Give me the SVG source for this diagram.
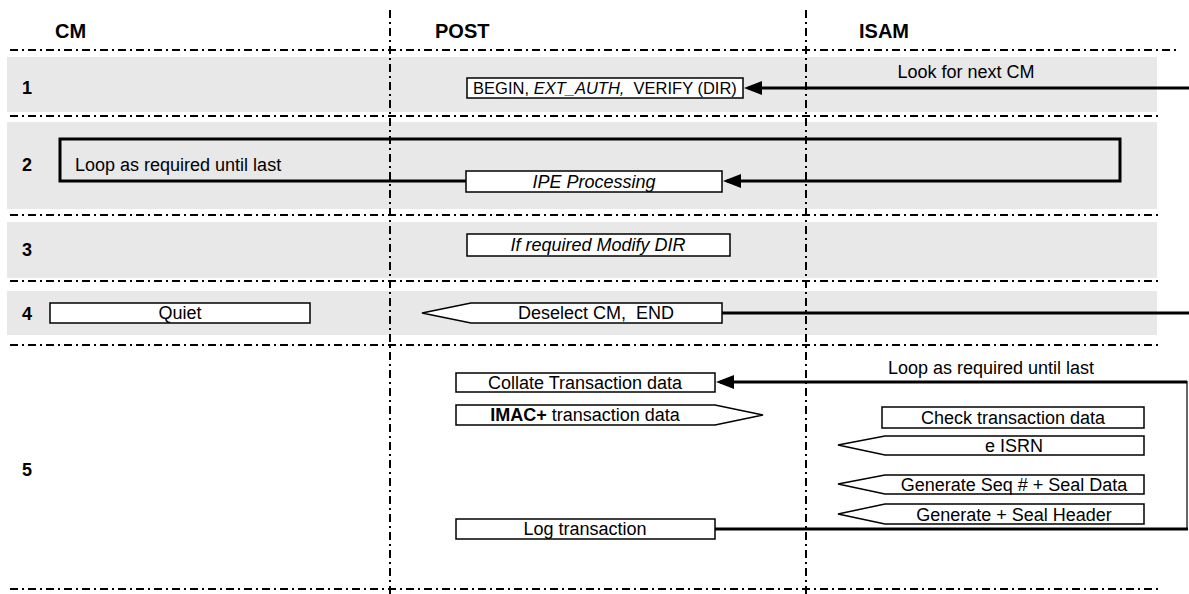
<svg xmlns="http://www.w3.org/2000/svg" width="1189" height="594" viewBox="0 0 1189 594">
<defs>
<style>
.band{fill:#e8e8e8}
.sep{stroke:#000;stroke-width:2;stroke-dasharray:8 4 2 4;fill:none}
.hdr{font-family:"Liberation Sans",Arial,sans-serif;font-weight:bold;font-size:20px;fill:#000}
.num{font-family:"Liberation Sans",Arial,sans-serif;font-weight:bold;font-size:18px;fill:#000}
.t{font-family:"Liberation Sans",Arial,sans-serif;font-size:18px;fill:#000}
.pre{white-space:pre}
.it{font-style:italic}
.box{fill:#fff;stroke:#000;stroke-width:1.5}
.conn{stroke:#000;stroke-width:3;fill:none}
.thin{stroke:#000;stroke-width:1.2;fill:none}
</style>
<marker id="ah" markerUnits="userSpaceOnUse" viewBox="0 0 18 14" refX="14" refY="7" markerWidth="18" markerHeight="14" orient="auto">
<path d="M0,0 L18,7 L0,14 z" fill="#000"/>
</marker>
</defs>
<rect width="1189" height="594" fill="#fff"/>
<g id="bands">
<rect class="band" x="7" y="57" width="1150" height="55"/>
<rect class="band" x="7" y="122" width="1150" height="87"/>
<rect class="band" x="7" y="222" width="1150" height="56"/>
<rect class="band" x="7" y="291" width="1150" height="44"/>
</g>
<g id="grid">
<line class="sep" x1="10" y1="50" x2="1180" y2="50"/>
<line class="sep" x1="10" y1="116" x2="1158" y2="116"/>
<line class="sep" x1="10" y1="215" x2="1158" y2="215"/>
<line class="sep" x1="10" y1="281" x2="1158" y2="281"/>
<line class="sep" x1="10" y1="345" x2="1158" y2="345"/>
<line class="sep" x1="10" y1="589" x2="1158" y2="589"/>
<line class="sep" x1="390" y1="10" x2="390" y2="594"/>
<line class="sep" x1="806" y1="10" x2="806" y2="594"/>
</g>
<g id="headers">
<text class="hdr" x="55" y="38">CM</text>
<text class="hdr" x="435" y="38">POST</text>
<text class="hdr" x="859" y="38">ISAM</text>
<text class="num" x="22" y="94">1</text>
<text class="num" x="22" y="171">2</text>
<text class="num" x="22" y="256">3</text>
<text class="num" x="22" y="320">4</text>
<text class="num" x="22" y="476">5</text>
</g>
<g id="connectors">
<path class="conn" d="M1189,88 H748" marker-end="url(#ah)"/>
<path class="conn" d="M466,181 H60 V139 H1120 V181 H727" marker-end="url(#ah)"/>
<path class="conn" d="M722,313 H1189"/>
<path class="conn" d="M1187,382 H720" marker-end="url(#ah)"/>
<path class="thin" d="M1187,381 V530"/>
<path class="conn" d="M715,529 H1188"/>
</g>
<g id="lbl-look">
<text class="t" x="966" y="78" text-anchor="middle">Look for next CM</text>
</g>
<g id="lbl-loop1">
<text class="t" x="75" y="171">Loop as required until last</text>
</g>
<g id="lbl-loop2">
<text class="t" x="991" y="374" text-anchor="middle">Loop as required until last</text>
</g>
<g id="n-begin">
<rect class="box" x="467" y="78" width="276" height="20"/>
<text class="t pre" x="605" y="94" text-anchor="middle" style="font-size:16.5px">BEGIN, <tspan class="it">EXT_AUTH,</tspan>  VERIFY (DIR)</text>
</g>
<g id="n-ipe">
<rect class="box" x="466" y="171" width="256" height="21"/>
<text class="t it" x="594" y="188" text-anchor="middle">IPE Processing</text>
</g>
<g id="n-modify">
<rect class="box" x="467" y="234" width="263" height="22"/>
<text class="t it" x="598" y="251" text-anchor="middle">If required Modify DIR</text>
</g>
<g id="n-quiet">
<rect class="box" x="50" y="303" width="260" height="20"/>
<text class="t" x="180" y="319" text-anchor="middle">Quiet</text>
</g>
<g id="n-deselect">
<path class="box" d="M422,313 L471,303 H722 V323 H471 Z"/>
<text class="t pre" x="596" y="319" text-anchor="middle">Deselect CM,  END</text>
</g>
<g id="n-collate">
<rect class="box" x="456" y="373" width="259" height="19"/>
<text class="t" x="585" y="389" text-anchor="middle">Collate Transaction data</text>
</g>
<g id="n-imac">
<path class="box" d="M456,405 H715 L763,415 L715,425 H456 Z"/>
<text class="t" x="585" y="421" text-anchor="middle"><tspan font-weight="bold">IMAC+</tspan> transaction data</text>
</g>
<g id="n-check">
<rect class="box" x="882" y="407" width="262" height="21"/>
<text class="t" x="1013" y="424" text-anchor="middle">Check transaction data</text>
</g>
<g id="n-isrn">
<path class="box" d="M838,445 L885,436 H1144 V455 H885 Z"/>
<text class="t" x="1014" y="452" text-anchor="middle">e ISRN</text>
</g>
<g id="n-seq">
<path class="box" d="M838,484 L885,475 H1144 V494 H885 Z"/>
<text class="t" x="1014" y="491" text-anchor="middle">Generate Seq # + Seal Data</text>
</g>
<g id="n-header">
<path class="box" d="M838,514 L885,504 H1144 V524 H885 Z"/>
<text class="t" x="1014" y="521" text-anchor="middle">Generate + Seal Header</text>
</g>
<g id="n-log">
<rect class="box" x="456" y="519" width="259" height="20"/>
<text class="t" x="585" y="535" text-anchor="middle">Log transaction</text>
</g>
</svg>
